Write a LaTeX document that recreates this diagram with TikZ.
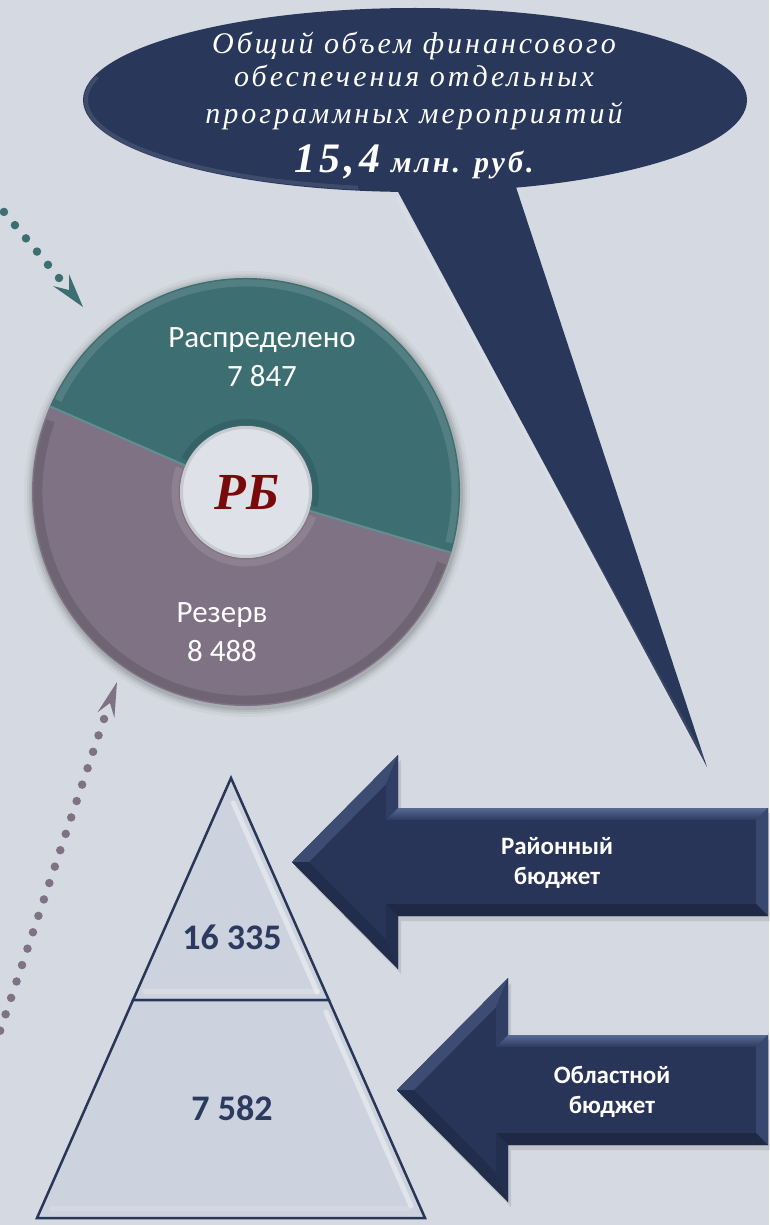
\documentclass[tikz,border=0pt]{standalone}
\usepackage{fontspec}
\setmainfont{Liberation Serif}
\newfontfamily\calfont{Carlito}
\newfontfamily\ellfont[LetterSpace=10]{Liberation Serif}
\usetikzlibrary{calc}
\definecolor{bg}{RGB}{213,218,226}
\definecolor{navy}{RGB}{41,55,90}
\definecolor{tealc}{RGB}{60,110,114}
\definecolor{tealsep}{RGB}{98,142,144}
\definecolor{mauve}{RGB}{127,114,133}
\definecolor{pyr}{RGB}{204,210,222}
\definecolor{pyrline}{RGB}{40,54,88}
\definecolor{pyrtext}{RGB}{43,58,94}
\definecolor{rbred}{RGB}{122,10,10}
\definecolor{holec}{RGB}{222,225,231}
\definecolor{arBase}{RGB}{40,53,88}
\definecolor{arUL}{RGB}{60,76,115}
\definecolor{arUB}{RGB}{48,62,99}
\definecolor{arTopA}{RGB}{88,106,148}
\definecolor{arTopB}{RGB}{44,58,95}
\definecolor{arR}{RGB}{56,71,110}
\definecolor{arBot}{RGB}{31,41,70}
\definecolor{arLB}{RGB}{35,47,79}
\definecolor{arLL}{RGB}{34,45,76}
\newcommand\BevArrow[6]{%
  \pgfmathsetmacro\arL{#3-#1}%
  \pgfmathsetmacro\arlen{veclen(\arL,#4)}%
  \pgfmathsetmacro\artx{#1+12*\arlen/#4}%
  \pgfmathsetmacro\arbx{#3-12}%
  \pgfmathsetmacro\aroff{-(12*\arlen-(\arbx-#1)*#4)/\arL}%
  \pgfmathsetmacro\arhtY{#2-\aroff}%
  \pgfmathsetmacro\arhbY{#2+\aroff}%
  \pgfmathsetmacro\arstY{#2-#5}%
  \pgfmathsetmacro\arsbY{#2+#5}%
  \pgfmathsetmacro\arstiY{#2-#5+12}%
  \pgfmathsetmacro\arsbiY{#2+#5-12}%
  \pgfmathsetmacro\arhT{#2-#4}%
  \pgfmathsetmacro\arhB{#2+#4}%
  \pgfmathsetmacro\arrx{#6-12}%
  \fill[black,opacity=0.10] (#1+3,#2+5) -- (#3+3,\arhT+5) -- (#3+3,\arstY+5) -- (#6+3,\arstY+5) -- (#6+3,\arsbY+5) -- (#3+3,\arsbY+5) -- (#3+3,\arhB+5) -- cycle;
  \fill[arBase] (#1,#2) -- (#3,\arhT) -- (#3,\arstY) -- (#6,\arstY) -- (#6,\arsbY) -- (#3,\arsbY) -- (#3,\arhB) -- cycle;
  \fill[arUL] (#1,#2) -- (#3,\arhT) -- (\arbx,\arhtY) -- (\artx,#2) -- cycle;
  \fill[arUB] (#3,\arhT) -- (#3,\arstY) -- (\arbx,\arstiY) -- (\arbx,\arhtY) -- cycle;
  \shade[top color=arTopA,bottom color=arTopB] (#3,\arstY) -- (#6,\arstY) -- (\arrx,\arstiY) -- (\arbx,\arstiY) -- cycle;
  \fill[arR] (#6,\arstY) -- (#6,\arsbY) -- (\arrx,\arsbiY) -- (\arrx,\arstiY) -- cycle;
  \fill[arBot] (#6,\arsbY) -- (#3,\arsbY) -- (\arbx,\arsbiY) -- (\arrx,\arsbiY) -- cycle;
  \fill[arLB] (#3,\arsbY) -- (#3,\arhB) -- (\arbx,\arhbY) -- (\arbx,\arsbiY) -- cycle;
  \fill[arLL] (#3,\arhB) -- (#1,#2) -- (\artx,#2) -- (\arbx,\arhbY) -- cycle;
}
\begin{document}
\begin{tikzpicture}[x=1pt,y=-1pt,
  elltxt/.style={font=\ellfont\itshape\fontsize{30}{34}\selectfont, text=white, anchor=base, inner sep=0pt},
  donlbl/.style={font=\calfont\fontsize{31}{39}\selectfont, text=white, align=center, inner sep=0pt},
  arrlbl/.style={font=\calfont\bfseries\fontsize{25}{30}\selectfont, text=white, align=center, inner sep=0pt},
  pyrnum/.style={font=\calfont\bfseries\fontsize{36}{40}\selectfont, text=pyrtext, inner sep=0pt},
  tealdots/.style={draw=tealc, line width=8.5pt, line cap=round, dash pattern=on 0pt off 17.2pt},
  mauvedots/.style={draw=mauve, line width=8.5pt, line cap=round, dash pattern=on 0pt off 17.29pt},
  pyrseg/.style={fill=pyr, draw=pyrline, line width=2.5pt, line join=miter},
  glint/.style={draw=white, opacity=0.4, line width=5pt, line cap=round}
]
\useasboundingbox (0,0) rectangle (769,1225);
\fill[bg] (0,0) rectangle (769,1225);

% ---------- callout ----------
\coordinate (ec) at (415,100);
\fill[navy] (389,175) -- (707,767) -- (512,175) -- cycle;
\fill[navy] (ec) ellipse [x radius=332, y radius=92];
\draw[white,opacity=0.10,line width=4pt] ($(ec)+({329*cos(100)},{89*sin(100)})$) arc[start angle=100,end angle=195,x radius=329,y radius=89];
\draw[white,opacity=0.08,line width=4pt] (397,198) -- (704,760);
\node[elltxt] (t1) at (414,54) {Общий объем финансового};
\node[elltxt] (t2) at (414,87) {обеспечения отдельных};
\node[elltxt] (t3) at (414,124) {программных мероприятий};
\node[elltxt] (t4) at (414,172) {{\bfseries\fontsize{42}{44}\selectfont 15,4} {\bfseries млн. руб.}};

% ---------- donut ----------
\coordinate (dc) at (246,492);
\foreach \i/\o in {9/0.03,6/0.05,4/0.06,2/0.08}{\fill[black,opacity=\o] ($(dc)+(1,2)$) circle (214+\i);}
\fill[tealc] ($(dc)+(-156.4:214)$) arc[start angle=-156.4,end angle=16.5,radius=214] -- ($(dc)+(16.5:66)$) arc[start angle=16.5,end angle=-156.4,radius=66] -- cycle;
\fill[mauve] ($(dc)+(16.5:214)$) arc[start angle=16.5,end angle=203.6,radius=214] -- ($(dc)+(203.6:66)$) arc[start angle=203.6,end angle=16.5,radius=66] -- cycle;
\draw[white,opacity=0.12,line width=7pt] ($(dc)+(-154:209)$) arc[start angle=-154,end angle=14,radius=209];
\draw[black,opacity=0.12,line width=9pt] ($(dc)+(20:208)$) arc[start angle=20,end angle=200,radius=208];
\draw[white,opacity=0.10,line width=7pt] ($(dc)+(20:71)$) arc[start angle=20,end angle=200,radius=71];
\draw[black,opacity=0.10,line width=6pt] ($(dc)+(-152:70)$) arc[start angle=-152,end angle=12,radius=70];
\draw[tealsep,line width=2pt] ($(dc)+(-156.4:66)$) -- ($(dc)+(-156.4:214)$);
\draw[tealsep,line width=2pt] ($(dc)+(16.5:66)$) -- ($(dc)+(16.5:214)$);
\fill[holec] (dc) circle (66);
\draw[black,opacity=0.10,line width=3pt] (dc) circle (64.5);
\node[font=\bfseries\itshape\fontsize{52}{54}\selectfont, text=rbred, inner sep=0pt] (rb) at (247,492) {РБ};
\node[donlbl] (dl) at (262,357) {Распределено\\7 847};
\node[donlbl] (dr) at (222,632) {Резерв\\8 488};

% ---------- dotted pointers ----------
\coordinate (ts) at (-7,198.8);
\coordinate (te) at (59,278);
\draw[tealdots] (te) -- (ts);
\fill[tealc] (83,307) -- (69,274) -- (69,290) -- (53,286) -- cycle;
\coordinate (ps) at (104,719);
\coordinate (pe) at (-5.4,1047.4);
\draw[mauvedots] (ps) -- (pe);
\fill[mauve] (117,682) -- (114.4,718) -- (110,703) -- (97.4,712.4) -- cycle;

% ---------- block arrows ----------
\BevArrow{292}{862}{398}{107}{54}{768}
\BevArrow{397}{1090}{508}{112}{55}{768}
\node[arrlbl] (ra) at (557,863) {Районный\\бюджет};
\node[arrlbl] (oa) at (612,1092) {Областной\\бюджет};

% ---------- pyramid ----------
\coordinate (apex) at (231,778);
\coordinate (cl) at (133.1,1000);
\coordinate (cr) at (328.9,1000);
\coordinate (bl) at (37,1218);
\coordinate (br) at (425,1218);
\draw[pyrseg] (apex) -- (cl) -- (cr) -- cycle;
\draw[pyrseg] (cl) -- (bl) -- (br) -- (cr) -- cycle;
\draw[glint] (233.4,803) -- (317.2,992);
\draw[glint] (326,1012) -- (411,1206);
\draw[glint,opacity=0.2] (145,991) -- (318,991);
\draw[glint,opacity=0.15] (52,1208) -- (408,1208);
\node[pyrnum] (n1) at (232,937) {16 335};
\node[pyrnum] (n2) at (232,1108) {7 582};
\end{tikzpicture}
\end{document}
